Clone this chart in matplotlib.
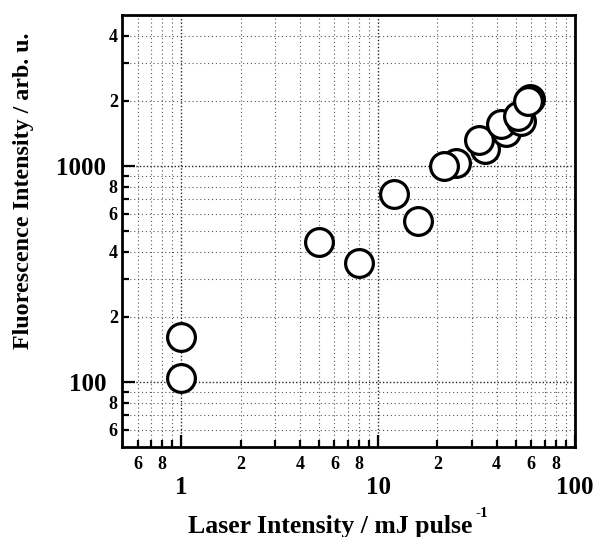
import matplotlib
matplotlib.use("Agg")
import matplotlib.pyplot as plt
from matplotlib.ticker import FixedLocator, FixedFormatter

# laser intensity (mJ/pulse) and fluorescence intensity (arb. u.)
laser = [1, 1, 5, 8, 12, 16, 24.8, 21.5, 34.7, 32.5, 44.7, 42.2, 53.3, 51.2, 59.3, 57.4]
fluor = [104, 162, 445, 356, 738, 555, 1030, 1000, 1196, 1317, 1430, 1563, 1614, 1711, 2043, 1995]

x_major = [1, 10, 100]
x_minor = [0.6, 0.7, 0.8, 0.9, 2, 3, 4, 5, 6, 7, 8, 9, 20, 30, 40, 50, 60, 70, 80, 90]
x_minor_labels = ['6', '', '8', '', '2', '', '4', '', '6', '', '8', '', '2', '', '4', '', '6', '', '8', '']
y_major = [100, 1000]
y_minor = [60, 70, 80, 90, 200, 300, 400, 500, 600, 700, 800, 900, 2000, 3000, 4000]
y_minor_labels = ['6', '', '8', '', '2', '', '4', '', '6', '', '8', '', '2', '', '4']

plt.rcParams['font.family'] = ['Liberation Serif', 'DejaVu Serif']
plt.rcParams['font.weight'] = 'bold'

fig = plt.figure(figsize=(5.96, 5.37), dpi=100)
ax = fig.add_axes([0.2047, 0.1676, 0.7601, 0.8044])

ax.set_xscale('log')
ax.set_yscale('log')
ax.set_xlim(0.5, 100)
ax.set_ylim(50, 5000)

ax.xaxis.set_major_locator(FixedLocator(x_major))
ax.xaxis.set_major_formatter(FixedFormatter(['1', '10', '100']))
ax.xaxis.set_minor_locator(FixedLocator(x_minor))
ax.xaxis.set_minor_formatter(FixedFormatter(x_minor_labels))
ax.yaxis.set_major_locator(FixedLocator(y_major))
ax.yaxis.set_major_formatter(FixedFormatter(['100', '1000']))
ax.yaxis.set_minor_locator(FixedLocator(y_minor))
ax.yaxis.set_minor_formatter(FixedFormatter(y_minor_labels))

ax.tick_params(which='both', direction='in', top=False, right=False, width=1.6)
ax.tick_params(axis='x', which='major', length=9, pad=21, labelsize=18)
ax.tick_params(axis='x', which='minor', length=5, pad=6.5, labelsize=13)
ax.tick_params(axis='y', which='major', length=9, pad=11.5, labelsize=18)
ax.tick_params(axis='y', which='minor', length=5, pad=3, labelsize=13)

ax.grid(True, which='major', linestyle=(0, (1, 1.5)), linewidth=1.0, color='0.15')
ax.grid(True, which='minor', linestyle=(0, (1, 2.5)), linewidth=0.8, color='0.35')
ax.set_axisbelow(True)

for s in ax.spines.values():
    s.set_linewidth(2)

ax.plot(laser, fluor, linestyle='none', marker='o', markersize=20,
        markerfacecolor='white', markeredgecolor='black', markeredgewidth=2.3,
        zorder=3, clip_on=False)

# x label with a small raised "-1"
xl = fig.text(188 / 596, 1 - 533 / 537, 'Laser Intensity / mJ pulse', ha='left',
              va='baseline', fontsize=18.5, fontweight='bold')
fig.canvas.draw()
bb = xl.get_window_extent()
fig.text((bb.x1 + 3) / 596, 1 - 517 / 537, '-1', ha='left', va='baseline',
         fontsize=11, fontweight='bold')

fig.text(24 / 596, 1 - 191 / 537, 'Fluorescence Intensity / arb. u.', rotation=90,
         ha='center', va='center', fontsize=17.3, fontweight='bold')

fig.savefig('out.png', dpi=100)
